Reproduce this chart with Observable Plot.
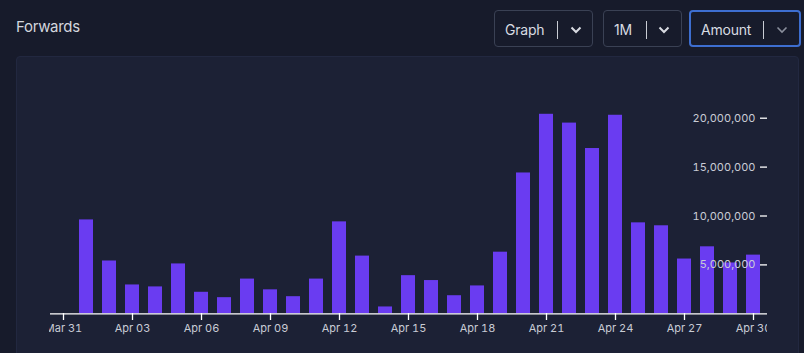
<!DOCTYPE html>
<html>
<head>
<meta charset="utf-8">
<script src="https://cdn.jsdelivr.net/npm/d3@7"></script>
<script src="https://cdn.jsdelivr.net/npm/@observablehq/plot@0.6"></script>
<style>
  html, body { margin: 0; padding: 0; }
  body { width: 804px; height: 353px; background: #171b2b; position: relative; overflow: hidden; font-family: Inter, "Noto Sans", sans-serif; }
  #title { position: absolute; left: 16px; top: 17px; font-size: 15px; color: #d3d6de; font-weight: 400; letter-spacing: -0.3px; }
  .dd { position: absolute; top: 10px; height: 37px; border: 1px solid #3a4154; border-radius: 4px; box-sizing: border-box; color: #d8dbe2; font-size: 14px; }
  .dd.active { border: 2px solid #3d6ed0; }
  .dd .lbl { position: absolute; top: 10px; letter-spacing: -0.2px; }
  .dd .sep { position: absolute; top: 10px; width: 1px; height: 18px; background: #c9ccd4; }
  .dd svg { position: absolute; top: 15px; }
  #panel { position: absolute; left: 16px; top: 56px; width: 783px; height: 310px; background: #1c2135; border: 1px solid #222840; border-radius: 4px; box-sizing: border-box; }
  #chart { position: absolute; left: 49px; top: 57px; }
</style>
</head>
<body>
<div id="title">Forwards</div>
<div class="dd" style="left:494px;width:99px;"><span class="lbl" style="left:10px;">Graph</span><span class="sep" style="left:62px;"></span><svg width="12" height="8" style="left:75px;"><polyline points="1.5,1.5 6,6 10.5,1.5" fill="none" stroke="#d8dbe2" stroke-width="2"/></svg></div>
<div class="dd" style="left:603px;width:79px;"><span class="lbl" style="left:10px;">1M</span><span class="sep" style="left:42px;"></span><svg width="12" height="8" style="left:54px;"><polyline points="1.5,1.5 6,6 10.5,1.5" fill="none" stroke="#d8dbe2" stroke-width="2"/></svg></div>
<div class="dd active" style="left:689px;width:112px;"><span class="lbl" style="left:10px;top:9px;">Amount</span><span class="sep" style="left:72px;top:9px;"></span><svg width="12" height="8" style="left:85px;top:14px;"><polyline points="1.5,1.5 6,6 10.5,1.5" fill="none" stroke="#8a8f9c" stroke-width="1.6"/></svg></div>
<div id="panel"></div>
<div id="chart"></div>
<script>
// Data
const days = ["2024-04-01","2024-04-02","2024-04-03","2024-04-04","2024-04-05","2024-04-06","2024-04-07","2024-04-08","2024-04-09","2024-04-10",
              "2024-04-11","2024-04-12","2024-04-13","2024-04-14","2024-04-15","2024-04-16","2024-04-17","2024-04-18","2024-04-19","2024-04-20",
              "2024-04-21","2024-04-22","2024-04-23","2024-04-24","2024-04-25","2024-04-26","2024-04-27","2024-04-28","2024-04-29","2024-04-30"];
const amounts = [9600000, 5400000, 2950000, 2750000, 5100000, 2200000, 1650000, 3550000, 2450000, 1750000,
                 3550000, 9400000, 5900000, 700000, 3900000, 3400000, 1850000, 2850000, 6300000, 14400000,
                 20400000, 19500000, 16900000, 20300000, 9300000, 9000000, 5600000, 6850000, 5200000, 6000000];
const xTickDates = ["2024-03-31","2024-04-03","2024-04-06","2024-04-09","2024-04-12","2024-04-15","2024-04-18","2024-04-21","2024-04-24","2024-04-27","2024-04-30"];
const yTickValues = [5000000, 10000000, 15000000, 20000000];
const xDomain = ["2024-03-31", "2024-04-30"];
const yDomain = [0, 20000000];

const data = days.map((d, i) => ({date: new Date(d), value: amounts[i]}));
const xt = xTickDates.map(d => new Date(d));

const textColor = "#c9ccd5";
const chart = Plot.plot({
  width: 718,
  height: 283,
  marginLeft: 1,
  marginRight: 0,
  marginTop: 0,
  marginBottom: 27,
  style: {background: "transparent", fontFamily: "Inter, 'Noto Sans', sans-serif", fontSize: "11px", color: textColor, overflow: "hidden"},
  x: {type: "utc", domain: xDomain.map(d => new Date(d)), range: [14, 704]},
  y: {domain: yDomain, range: [256.3, 60.7]},
  marks: [
    Plot.rectY(data, {
      x1: d => d3.utcHour.offset(d.date, -12),
      x2: d => d3.utcHour.offset(d.date, 12),
      y: "value",
      fill: "#6a3cf1",
      insetLeft: 4.5,
      insetRight: 4.5
    }),
    Plot.ruleY([0], {stroke: "#ffffff", strokeWidth: 1.3}),
    Plot.axisX({ticks: xt, tickFormat: d3.utcFormat("%b %d"), tickSize: 7, tickPadding: 4, stroke: "#ffffff", strokeWidth: 1.3, fill: textColor, fontSize: 11, label: null}),
    Plot.axisY({anchor: "right", ticks: yTickValues, tickFormat: d3.format(","), tickSize: 7, dx: -8, tickPadding: -11, textAnchor: "end", stroke: "#ffffff", strokeWidth: 1.3, fill: textColor, fontSize: 11, label: null})
  ]
});
document.getElementById("chart").appendChild(chart);
</script>
</body>
</html>
